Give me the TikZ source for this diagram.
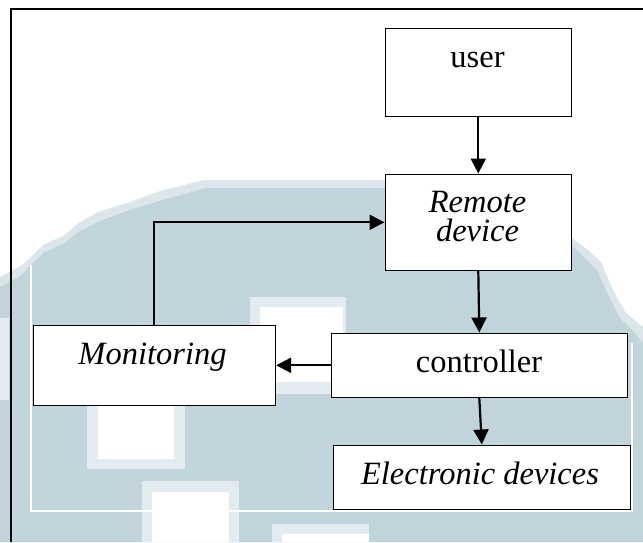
\documentclass[tikz,border=0pt]{standalone}
\usepackage{fontspec}
\setmainfont{Liberation Serif}
\usetikzlibrary{arrows.meta}
\definecolor{wm}{RGB}{193,212,219}
\definecolor{wmfringe}{RGB}{218,230,234}
\definecolor{wmlight}{RGB}{226,235,239}
\begin{document}
\begin{tikzpicture}[x=1pt,y=-1pt,
  box/.style={draw=black,line width=1.6pt,fill=white,rectangle,inner sep=0pt,anchor=north west},
  lbl/.style={anchor=base,inner sep=0pt,font=\fontsize{32.5}{29}\selectfont},
  arr/.style={line width=2.2pt,-{Triangle[length=15pt,width=15pt]}}]
\useasboundingbox (0,0) rectangle (643,542);
% watermark background
\fill[wmfringe] (0,277) -- (22,265) -- (33,255) -- (43,245) -- (65,235) -- (77,224) -- (98,212) -- (130,202) -- (163,190) -- (205,180) -- (384,180) -- (571,237) -- (588,250) -- (601,262) -- (613,290) -- (626,313) -- (643,327) -- (643,542) -- (0,542) -- cycle;
\fill[wm] (0,287) -- (22,275) -- (33,263) -- (43,253) -- (65,243) -- (77,233) -- (98,222) -- (130,210) -- (163,200) -- (205,188) -- (384,188) -- (571,245) -- (585,258) -- (597,270) -- (608,295) -- (620,318) -- (632,330) -- (643,343) -- (643,542) -- (0,542) -- cycle;
\fill[wmlight] (0,318) rectangle (9,400);
\fill[wmlight] (250,297) rectangle (346,394);
\fill[white] (260,307) rectangle (343,382);
\fill[wmlight] (87,400) rectangle (185,469);
\fill[white] (98,400) rectangle (174,459);
\fill[wmlight] (142,481) rectangle (239,542);
\fill[white] (152,492) rectangle (229,542);
\fill[wmlight] (272,524) rectangle (369,542);
\fill[white] (282,534) rectangle (369,542);
\draw[white,line width=1.5pt] (31,265) -- (31,511) -- (632,511) -- (632,343);
% outer frame
\draw[line width=2.5pt] (11,542) -- (11,9) -- (643,9);
% boxes
\node[box,minimum width=186pt,minimum height=88pt] (user) at (384.5,27.5) {};
\node[box,minimum width=186pt,minimum height=96pt] (remote) at (384.5,173.5) {};
\node[box,minimum width=242pt,minimum height=80pt] (monitor) at (32.5,324.5) {};
\node[box,minimum width=296pt,minimum height=64pt] (ctrl) at (330.5,332.5) {};
\node[box,minimum width=297pt,minimum height=64pt] (elec) at (332.5,444.5) {};
% texts
\node[lbl] (tuser) at (477.5,67) {user};
\node[lbl,align=center] (tremote) at (477.5,241) {\itshape Remote\\\itshape device};
\node[lbl] (tmonitor) at (152.5,364) {\itshape Monitoring};
\node[lbl] (tctrl) at (479,372) {controller};
\node[lbl] (telec) at (480,484) {\itshape Electronic devices};
% connectors
\draw[arr] (user.south) -- (remote.north);
\draw[arr] (remote.south) -- (ctrl.north);
\draw[arr] (ctrl.west) -- (monitor.east);
\draw[arr] (ctrl.south) -- (elec.north);
\draw[arr] (monitor.north) |- (remote.west);
\end{tikzpicture}
\end{document}
